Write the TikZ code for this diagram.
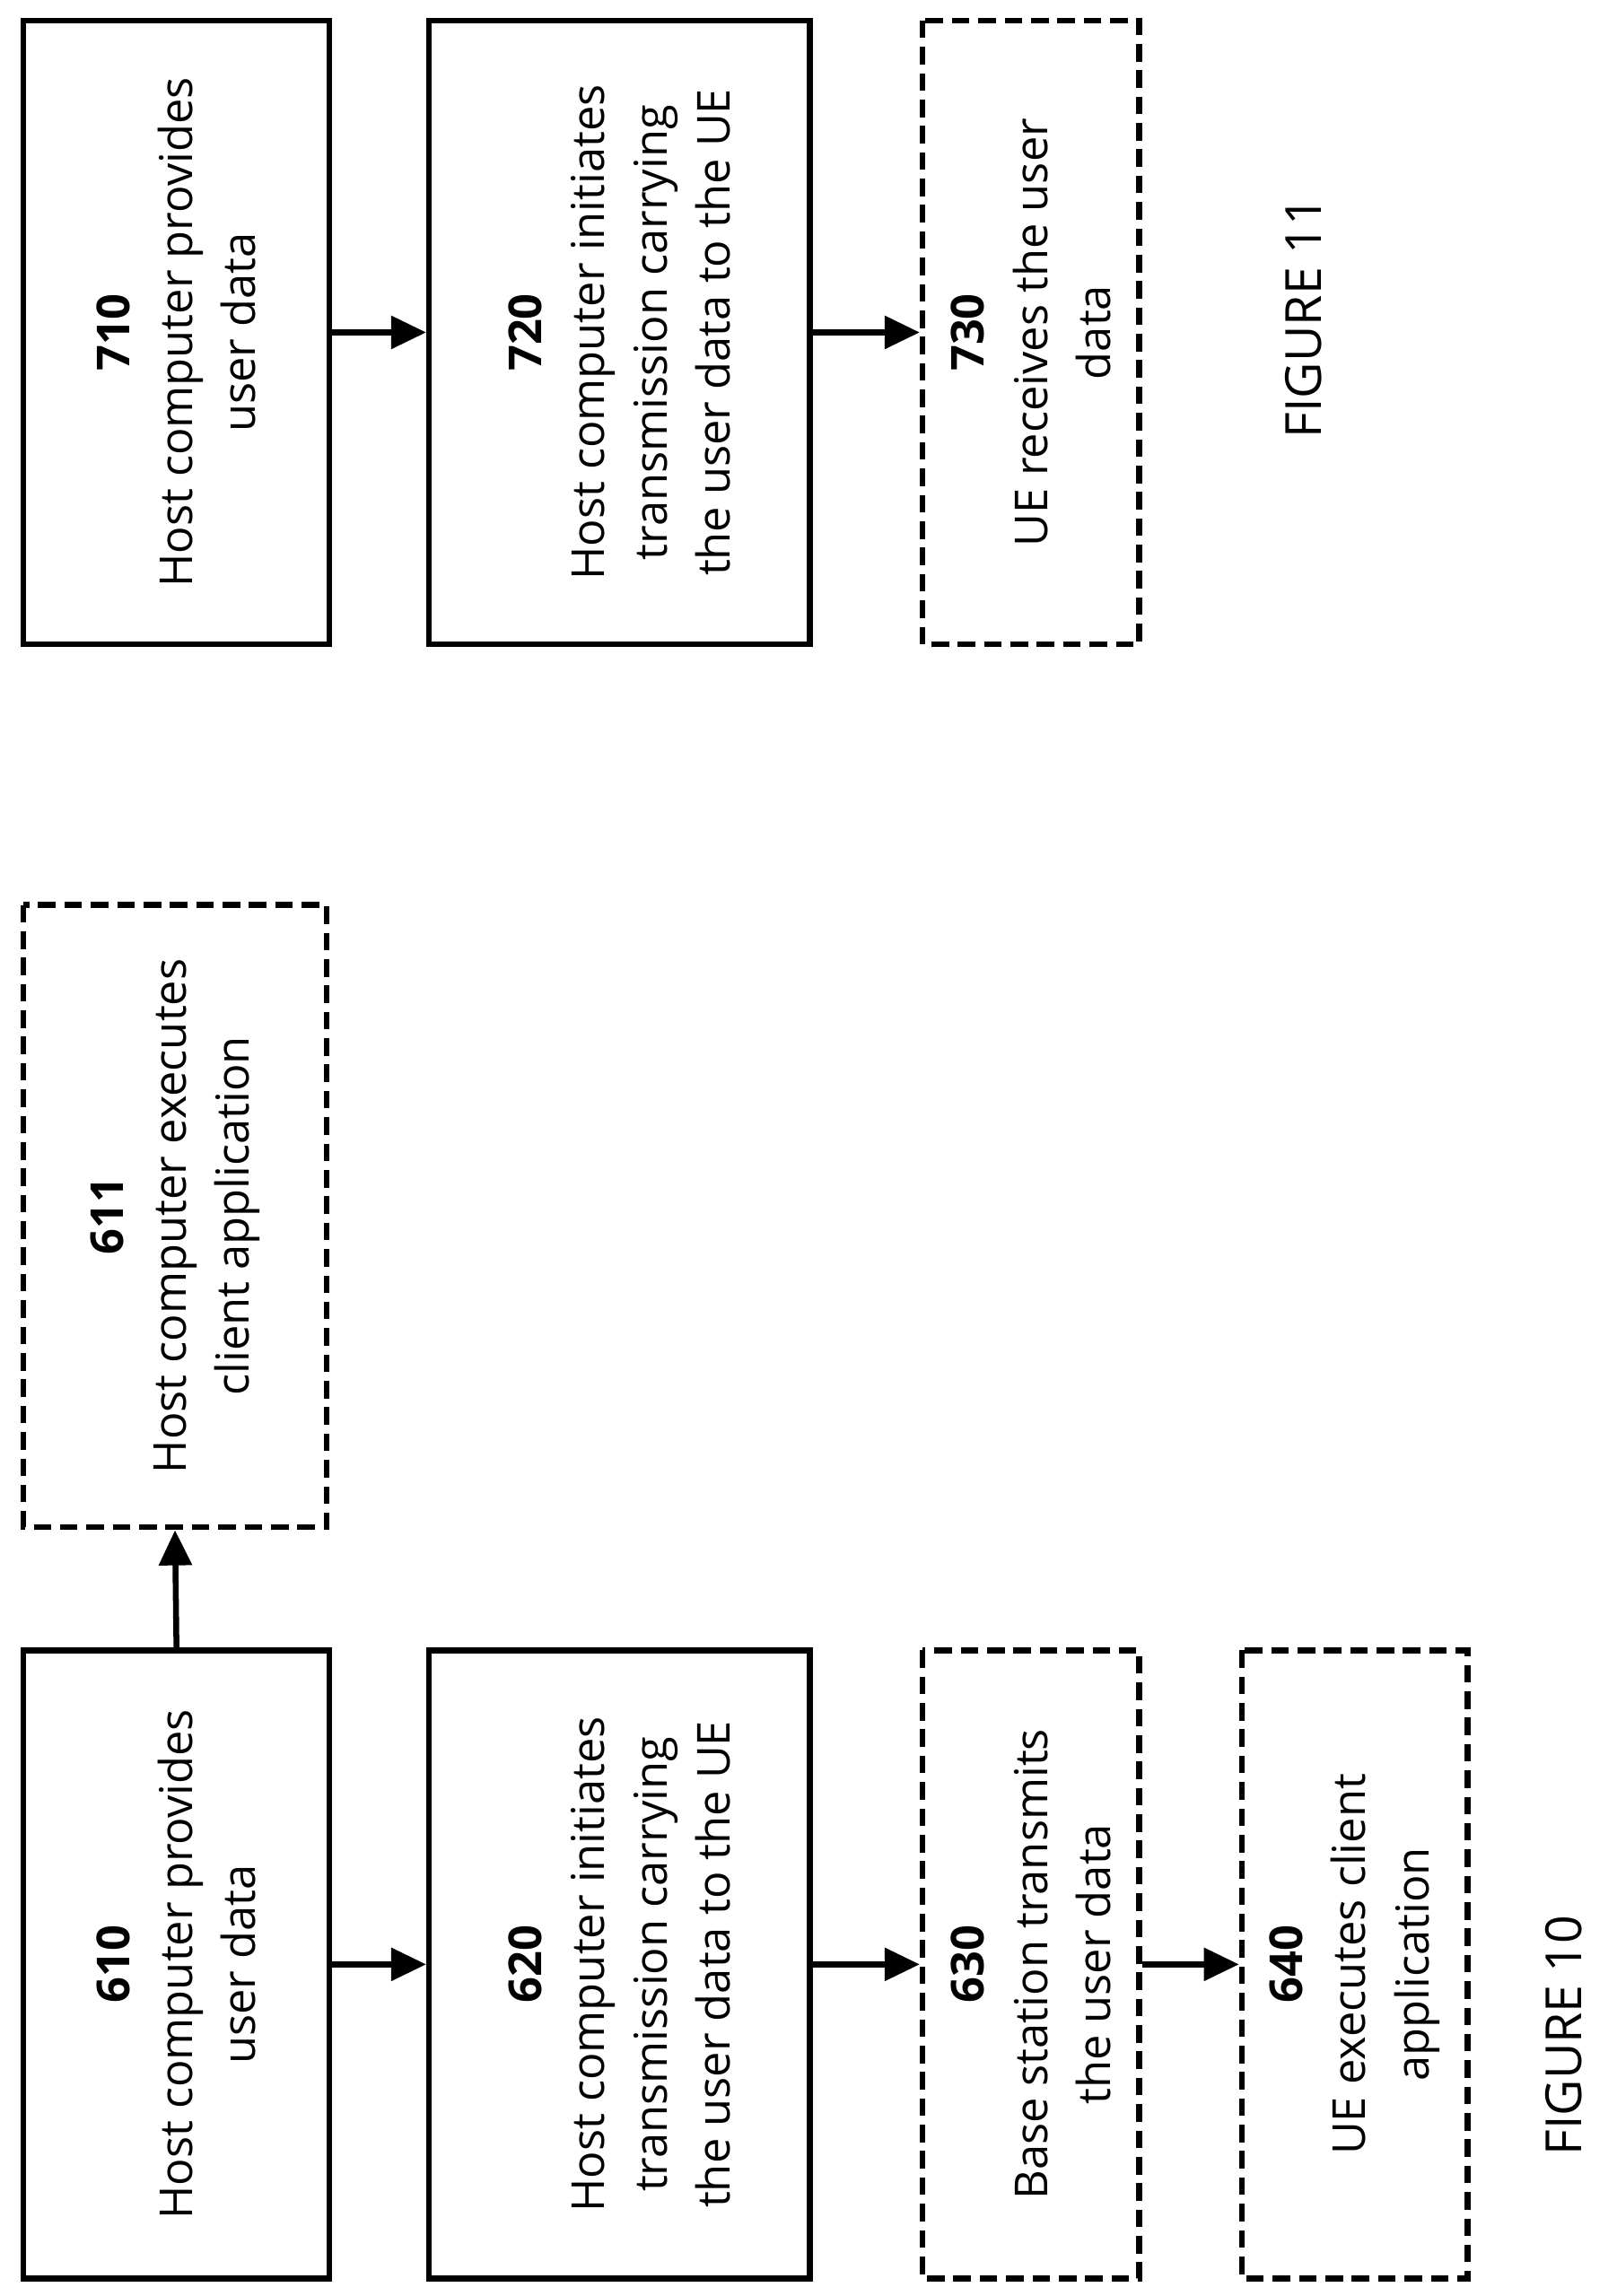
\documentclass[tikz,border=0pt]{standalone}
\usepackage{fontspec}
\setmainfont{Open Sans}
\usetikzlibrary{arrows.meta}
\begin{document}
\begin{tikzpicture}[x=1pt,y=-1pt,
 box/.style={draw,line width=4pt,rotate=90,align=center,inner sep=0pt,
   font=\fontsize{31}{43}\selectfont},
 dbox/.style={box,dash pattern=on 12pt off 6pt},
 arr/.style={line width=4pt,-{Triangle[length=24pt,width=22pt]}}]
\useasboundingbox (0,0) rectangle (1104,1568);
\node[box,minimum width=429pt,minimum height=209pt] (b610) at (120.5,1341.5) {\textbf{610}\\Host computer provides\\user data};
\node[dbox,minimum width=425pt,minimum height=207pt] (b611) at (119.5,830.5) {\textbf{611}\\Host computer executes\\client application};
\node[box,minimum width=429pt,minimum height=260pt] (b620) at (423,1341.5) {\textbf{620}\\Host computer initiates\\transmission carrying\\the user data to the UE};
\node[dbox,minimum width=429pt,minimum height=148pt] (b630) at (704,1341.5) {\textbf{630}\\Base station transmits\\the user data};
\node[dbox,minimum width=429pt,minimum height=154pt] (b640) at (925,1341.5) {\textbf{640}\\UE executes client\\application};
\node[box,minimum width=426pt,minimum height=209pt] (b710) at (120.5,227) {\textbf{710}\\Host computer provides\\user data};
\node[box,minimum width=426pt,minimum height=260pt] (b720) at (423,227) {\textbf{720}\\Host computer initiates\\transmission carrying\\the user data to the UE};
\node[dbox,minimum width=426pt,minimum height=148pt] (b730) at (704,227) {\textbf{730}\\UE receives the user\\data};
\node[rotate=90,font=\fontsize{34}{40}\selectfont] (f10) at (1068,1390) {FIGURE 10};
\node[rotate=90,font=\fontsize{34}{40}\selectfont] (f11) at (890,217) {FIGURE 11};
\draw[arr] (b610.south) -- (b620.north);
\draw[arr] (b620.south) -- (b630.north);
\draw[arr] (b630.south) -- (b640.north);
\draw[arr] (b610.east) -- (b611.west);
\draw[arr] (b710.south) -- (b720.north);
\draw[arr] (b720.south) -- (b730.north);
\end{tikzpicture}
\end{document}
